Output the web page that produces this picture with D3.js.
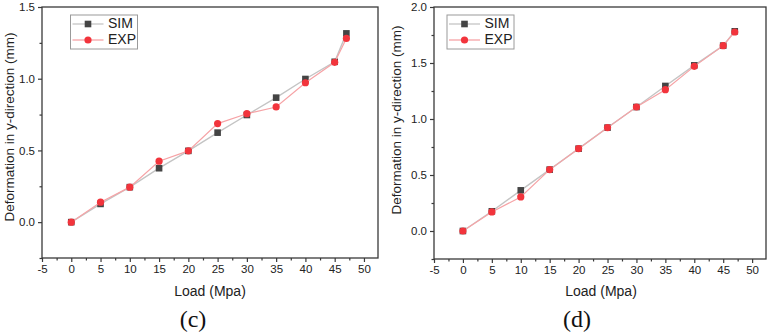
<!DOCTYPE html>
<html><head><meta charset="utf-8">
<script src="https://cdn.jsdelivr.net/npm/d3@7"></script>
<style>body{margin:0;background:#fff}svg{display:block}</style>
</head><body>
<svg id="c" width="768" height="336"></svg>
<script>
const loads = [0, 5, 10, 15, 20, 25, 30, 35, 40, 45, 47];
const simC = [0, 0.127, 0.244, 0.376, 0.497, 0.624, 0.747, 0.868, 0.998, 1.118, 1.316];
const expC = [0, 0.139, 0.244, 0.425, 0.497, 0.687, 0.756, 0.803, 0.972, 1.114, 1.281];
const simD = [0, 0.176, 0.363, 0.548, 0.735, 0.923, 1.107, 1.295, 1.479, 1.655, 1.783];
const expD = [0, 0.170, 0.304, 0.548, 0.735, 0.923, 1.107, 1.262, 1.470, 1.655, 1.777];
const xTicks = [-5, 0, 5, 10, 15, 20, 25, 30, 35, 40, 45, 50];
const yTicksC = [0, 0.5, 1.0, 1.5];
const yTicksD = [0, 0.5, 1.0, 1.5, 2.0];
const seriesNames = ["SIM", "EXP"];
const panelLabels = ["(c)", "(d)"];

const svg = d3.select("#c");
const font = "Arial, 'Liberation Sans', sans-serif";
const axisCol = "#3a3a3a";

function panel(cfg) {
  const g = svg.append("g");
  const x = d3.scaleLinear().domain([-5, 52.4]).range([cfg.left, cfg.right]);
  const y = d3.scaleLinear().domain([-0.25, cfg.ymax]).range([cfg.bottom, cfg.top]);

  // frame
  g.append("rect").attr("x", cfg.left).attr("y", cfg.top)
    .attr("width", cfg.right - cfg.left).attr("height", cfg.bottom - cfg.top)
    .attr("fill", "none").attr("stroke", axisCol).attr("stroke-width", 1.3);

  // x axis
  const xa = g.append("g").attr("transform", `translate(0,${cfg.bottom})`)
    .call(d3.axisBottom(x).tickValues(xTicks).tickSize(4).tickPadding(3).tickFormat(d => String(d)));
  xa.select(".domain").remove();
  xa.selectAll("line").attr("stroke", axisCol).attr("stroke-width", 1.2);
  xa.selectAll("text").attr("font-family", font).attr("font-size", 11.5).attr("fill", "#222");
  const xm = g.append("g").attr("transform", `translate(0,${cfg.bottom})`)
    .call(d3.axisBottom(x).tickValues(d3.range(-2.5, 52, 5)).tickSize(2.5).tickFormat(""));
  xm.select(".domain").remove();
  xm.selectAll("line").attr("stroke", axisCol).attr("stroke-width", 1.2);

  // y axis
  const ya = g.append("g").attr("transform", `translate(${cfg.left},0)`)
    .call(d3.axisLeft(y).tickValues(cfg.yTicks).tickSize(4).tickPadding(3).tickFormat(d => d.toFixed(1)));
  ya.select(".domain").remove();
  ya.selectAll("line").attr("stroke", axisCol).attr("stroke-width", 1.2);
  ya.selectAll("text").attr("font-family", font).attr("font-size", 11.5).attr("fill", "#222");
  const ym = g.append("g").attr("transform", `translate(${cfg.left},0)`)
    .call(d3.axisLeft(y).tickValues(d3.range(-0.25, cfg.ymax, 0.5)).tickSize(2.5).tickFormat(""));
  ym.select(".domain").remove();
  ym.selectAll("line").attr("stroke", axisCol).attr("stroke-width", 1.2);

  // titles
  g.append("text").attr("x", cfg.xtX).attr("y", 292).attr("text-anchor", "middle")
    .attr("dominant-baseline", "middle").attr("font-family", font).attr("font-size", 14)
    .attr("fill", "#222").text("Load (Mpa)");
  g.append("text").attr("transform", `translate(${cfg.ytX},${cfg.ytY}) rotate(-90)`)
    .attr("text-anchor", "middle").attr("dominant-baseline", "middle")
    .attr("font-family", font).attr("font-size", 13.5).attr("fill", "#222")
    .text("Deformation in y-direction (mm)");
  g.append("text").attr("x", cfg.labX).attr("y", 321).attr("text-anchor", "middle")
    .attr("dominant-baseline", "middle").attr("font-family", "'Liberation Serif', 'Times New Roman', serif")
    .attr("font-size", 24).attr("fill", "#111").text(cfg.label);

  const line = d3.line().x((d, i) => x(loads[i])).y(d => y(d));
  // SIM
  g.append("path").datum(cfg.sim).attr("d", line).attr("fill", "none")
    .attr("stroke", "#c4c4c4").attr("stroke-width", 1.4);
  g.append("g").selectAll("rect").data(cfg.sim).join("rect")
    .attr("x", (d, i) => x(loads[i]) - 3.3).attr("y", d => y(d) - 3.3)
    .attr("width", 6.6).attr("height", 6.6).attr("fill", "#444");
  // EXP
  g.append("path").datum(cfg.exp).attr("d", line).attr("fill", "none")
    .attr("stroke", "#f6a3a6").attr("stroke-width", 1.2);
  g.append("g").selectAll("circle").data(cfg.exp).join("circle")
    .attr("cx", (d, i) => x(loads[i])).attr("cy", d => y(d)).attr("r", 3.6)
    .attr("fill", "#f2343c");

  // legend
  const lg = g.append("g");
  lg.append("rect").attr("x", cfg.legX).attr("y", 15).attr("width", 67).attr("height", 34)
    .attr("fill", "#fff").attr("stroke", "#9a9a9a").attr("stroke-width", 1);
  const rows = [24, 40];
  seriesNames.forEach((n, i) => {
    const ry = rows[i];
    lg.append("line").attr("x1", cfg.legX + 2).attr("x2", cfg.legX + 33).attr("y1", ry).attr("y2", ry)
      .attr("stroke", i === 0 ? "#c4c4c4" : "#f6a3a6").attr("stroke-width", 1.3);
    if (i === 0) {
      lg.append("rect").attr("x", cfg.legX + 17.5 - 3.3).attr("y", ry - 3.3).attr("width", 6.6).attr("height", 6.6).attr("fill", "#444");
    } else {
      lg.append("circle").attr("cx", cfg.legX + 17.5).attr("cy", ry).attr("r", 3.6).attr("fill", "#f2343c");
    }
    lg.append("text").attr("x", cfg.legX + 37.5).attr("y", ry).attr("dominant-baseline", "middle")
      .attr("font-family", font).attr("font-size", 14).attr("fill", "#222").text(n);
  });
}

panel({left: 42, right: 378, top: 7, bottom: 258, ymax: 1.5, yTicks: yTicksC,
  sim: simC, exp: expC, xtX: 210, ytX: 10, ytY: 127, labX: 193, label: panelLabels[0], legX: 70.5});
panel({left: 434, right: 766, top: 7, bottom: 259, ymax: 2.0, yTicks: yTicksD,
  sim: simD, exp: expD, xtX: 601, ytX: 397, ytY: 120, labX: 577, label: panelLabels[1], legX: 447});
</script>
</body></html>
